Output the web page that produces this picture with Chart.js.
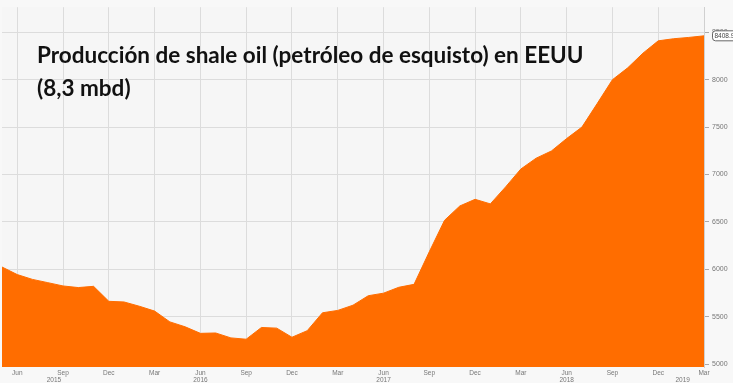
<!DOCTYPE html>
<html>
<head>
<meta charset="utf-8">
<script src="https://cdn.jsdelivr.net/npm/chart.js@4/dist/chart.umd.min.js"></script>
<style>
  html, body { margin: 0; padding: 0; background: #f8f8f8; }
  #wrap { position: relative; width: 733px; height: 383px; overflow: hidden; }
  #title { position: absolute; left: 37px; top: 38px; font-family: Lato, "Open Sans", sans-serif; font-weight: bold; font-size: 22.5px; line-height: 33px; color: #111; white-space: nowrap; pointer-events: none; }
</style>
</head>
<body>
<div id="wrap">
  <canvas id="c" width="733" height="383"></canvas>
  <div id="title">Producción de shale oil (petróleo de esquisto) en EEUU<br>(8,3 mbd)</div>
</div>
<script>
const months = [
  'May 2015','Jun 2015','Jul 2015','Aug 2015','Sep 2015','Oct 2015','Nov 2015','Dec 2015',
  'Jan 2016','Feb 2016','Mar 2016','Apr 2016','May 2016','Jun 2016','Jul 2016','Aug 2016','Sep 2016','Oct 2016','Nov 2016','Dec 2016',
  'Jan 2017','Feb 2017','Mar 2017','Apr 2017','May 2017','Jun 2017','Jul 2017','Aug 2017','Sep 2017','Oct 2017','Nov 2017','Dec 2017',
  'Jan 2018','Feb 2018','Mar 2018','Apr 2018','May 2018','Jun 2018','Jul 2018','Aug 2018','Sep 2018','Oct 2018','Nov 2018','Dec 2018',
  'Jan 2019','Feb 2019','Mar 2019'
];
const production = [
  6024, 5944, 5893, 5859, 5824, 5807, 5820, 5662,
  5655, 5610, 5559, 5445, 5393, 5324, 5328, 5276, 5262, 5386, 5379, 5283,
  5352, 5541, 5566, 5621, 5721, 5748, 5810, 5841, 6185, 6517, 6668, 6738,
  6690, 6869, 7058, 7172, 7248, 7379, 7500, 7748, 8000, 8125, 8280, 8410,
  8432, 8446, 8463
];
const yTicks = [5000, 5500, 6000, 6500, 7000, 7500, 8000, 8500];
const monthTickLabels = ['Jun','Sep','Dec','Mar','Jun','Sep','Dec','Mar','Jun','Sep','Dec','Mar','Jun','Sep','Dec','Mar'];
const yearLabels = ['2015','2016','2017','2018','2019'];
const yearLabelAt = [3.4, 13, 25, 37, 44.6];
const lastValueText = '8408.93';

const ORANGE = '#ff6d00';
const GRID = '#dcdcdc';
const TXT = '#777';

function isTick(i) { return i >= 1 && (i - 1) % 3 === 0; }

const yearPlugin = {
  id: 'years',
  afterDraw(chart) {
    const ctx = chart.ctx, xs = chart.scales.x, ys = chart.scales.y;
    ctx.save();
    ctx.font = '6.5px "Liberation Sans", Arial, sans-serif';
    ctx.fillStyle = TXT;
    ctx.textAlign = 'center';
    ctx.textBaseline = 'middle';
    yearLabels.forEach((t, i) => {
      ctx.fillText(t, xs.getPixelForValue(yearLabelAt[i]), 380);
    });
    const v = production[production.length - 1];
    const py = ys.getPixelForValue(v);
    const x0 = chart.chartArea.right + 8;
    ctx.fillStyle = '#ffffff';
    ctx.strokeStyle = '#666';
    ctx.lineWidth = 1;
    ctx.beginPath();
    if (ctx.roundRect) ctx.roundRect(x0 + 0.5, py - 5, 30, 10, 3); else ctx.rect(x0 + 0.5, py - 5, 30, 10);
    ctx.fill();
    ctx.stroke();
    ctx.fillStyle = '#444';
    ctx.textAlign = 'left';
    ctx.font = '6.5px "Liberation Sans", Arial, sans-serif';
    ctx.fillText(lastValueText, x0 + 2.5, py + 0.5);
    ctx.restore();
  }
};

const bgPlugin = {
  id: 'bg',
  beforeDraw(chart) {
    const ctx = chart.ctx;
    ctx.save();
    ctx.fillStyle = '#f8f8f8';
    ctx.fillRect(0, 0, chart.width, chart.height);
    ctx.fillStyle = '#f6f6f6';
    const a = chart.chartArea;
    ctx.fillRect(a.left, a.top, a.right - a.left, a.bottom - a.top);
    ctx.restore();
  }
};

new Chart(document.getElementById('c'), {
  type: 'line',
  data: {
    labels: months,
    datasets: [{
      data: production,
      borderColor: ORANGE,
      backgroundColor: ORANGE,
      borderWidth: 1,
      pointRadius: 0,
      tension: 0,
      fill: 'start'
    }]
  },
  options: {
    responsive: false,
    animation: false,
    layout: { padding: 0 },
    plugins: { legend: { display: false }, tooltip: { enabled: false }, title: { display: false } },
    scales: {
      x: {
        type: 'category',
        offset: false,
        border: { display: false },
        grid: {
          drawTicks: false,
          color: (c) => (c.tick && isTick(c.index)) ? GRID : 'rgba(0,0,0,0)',
          lineWidth: 1
        },
        ticks: {
          autoSkip: false,
          maxRotation: 0,
          padding: 2,
          color: TXT,
          font: { family: '"Liberation Sans", Arial, sans-serif', size: 6.5 },
          callback: function (v, i) {
            if (!isTick(i)) return '';
            return monthTickLabels[(i - 1) / 3];
          }
        },
        afterFit: (s) => { s.height = 16; }
      },
      y: {
        position: 'right',
        min: 4969,
        max: 8765,
        afterBuildTicks: (s) => { s.ticks = yTicks.map(v => ({ value: v })); },
        border: { display: true, color: '#d0d0d0' },
        grid: { color: GRID, tickLength: 5, tickColor: '#aaa', lineWidth: 1 },
        ticks: {
          padding: 3,
          color: TXT,
          font: { family: '"Liberation Sans", Arial, sans-serif', size: 7 },
          callback: (v) => String(v)
        },
        afterFit: (s) => { s.width = 29; }
      }
    }
  },
  plugins: [bgPlugin, yearPlugin]
});
</script>
</body>
</html>
